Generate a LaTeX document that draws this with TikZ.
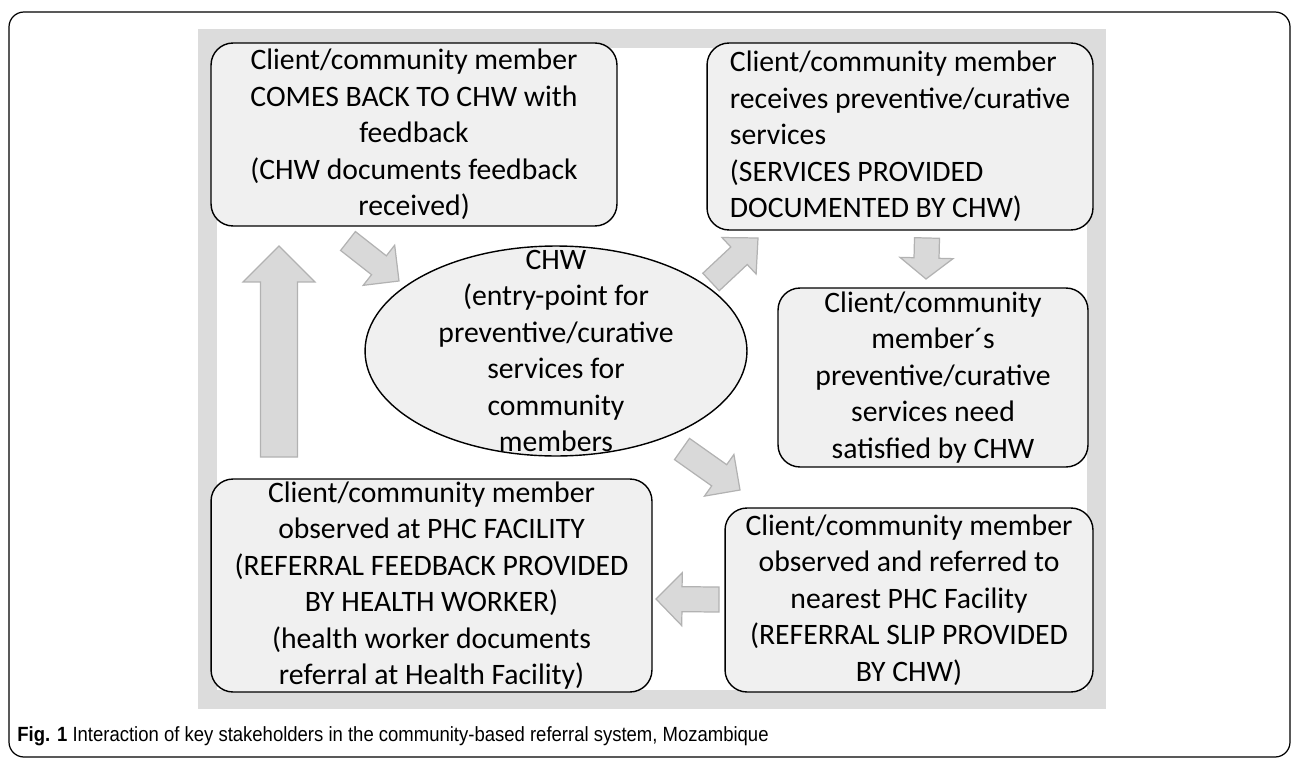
\documentclass[tikz,border=0pt]{standalone}
\usepackage{fontspec}
\setmainfont{Carlito}
\newfontfamily\capfont[FakeStretch=0.9]{Liberation Sans}
\usetikzlibrary{shapes.geometric,calc}

\definecolor{boxfill}{HTML}{F0F0F0}
\definecolor{bandgray}{HTML}{DCDCDC}
\definecolor{arrowfill}{HTML}{D9D9D9}
\definecolor{arrowline}{HTML}{B2B2B2}

\tikzset{
  stage/.style={draw=black, line width=0.8pt, fill=boxfill, rounded corners=0.44cm,
    inner sep=0pt, align=center, font=\fontsize{16.9}{20.8}\selectfont},
  hub/.style={ellipse, draw=black, line width=0.8pt, fill=boxfill, inner sep=0pt},
  hubtext/.style={align=center, inner sep=0pt, font=\fontsize{16.9}{20.8}\selectfont},
  bigarrow/.style={fill=arrowfill, draw=arrowline, line width=0.7pt, line join=miter}
}

% block arrow: tail, tip, half shaft, half head, head length
\newcommand{\blockarrow}[5]{%
  \coordinate (neck) at ($(#2)!#5!(#1)$);
  \filldraw[bigarrow] ($(#1)!#3!90:(#2)$) -- ($(neck)!#3!90:(#2)$) -- ($(neck)!#4!90:(#2)$) -- (#2)
    -- ($(neck)!#4!-90:(#2)$) -- ($(neck)!#3!-90:(#2)$) -- ($(#1)!#3!-90:(#2)$) -- cycle;
}

\begin{document}
\begin{tikzpicture}[x=0.02cm, y=-0.02cm]

\useasboundingbox (0,0) rectangle (1293,760);

% Frame and caption
\draw[line width=0.7pt, rounded corners=0.3cm] (9,12) rectangle (1290,757);
\node[anchor=west, inner sep=0pt, font=\capfont\fontsize{11.7}{14}\selectfont] (caption) at (17,736)
  {\textbf{Fig. 1} Interaction of key stakeholders in the community-based referral system, Mozambique};

% Gray band
\draw[bandgray, line width=0.38cm] (207.5,38.5) rectangle (1096.5,699.5);

% Stages
\node[stage, minimum width=8.12cm, minimum height=3.66cm] (back) at (414,134.5)
  {Client/community member\\COMES BACK TO CHW with\\feedback\\(CHW documents feedback\\received)};
\node[stage, align=left, minimum width=7.72cm, minimum height=3.74cm] (serv) at (900,136.5)
  {Client/community member\\receives preventive/curative\\services\\(SERVICES PROVIDED\\DOCUMENTED BY CHW)};
\node[stage, minimum width=6.2cm, minimum height=3.58cm] (need) at (933,377.5)
  {Client/community\\member´s\\preventive/curative\\services need\\satisfied by CHW};
\node[stage, minimum width=7.36cm, minimum height=3.68cm] (refer) at (909,600)
  {Client/community member\\observed and referred to\\nearest PHC Facility\\(REFERRAL SLIP PROVIDED\\BY CHW)};
\node[stage, minimum width=8.82cm, minimum height=4.26cm] (phc) at (431.5,585.5)
  {Client/community member\\observed at PHC FACILITY\\(REFERRAL FEEDBACK PROVIDED\\BY HEALTH WORKER)\\(health worker documents\\referral at Health Facility)};

% CHW
\node[hub, minimum width=7.64cm, minimum height=4.2cm] (chw) at (556,351) {};
\node[hubtext] (chwtext) at (chw)
  {CHW\\(entry-point for\\preventive/curative\\services for\\community\\members};

% Arrows
\coordinate (upT) at (279,457);   \coordinate (upH) at (279,246);
\coordinate (fbT) at (348,241);   \coordinate (fbH) at (399,281);
\coordinate (svT) at (711,282);   \coordinate (svH) at (758,238);
\coordinate (ndT) at (927,238);   \coordinate (ndH) at (926,279);
\coordinate (rfT) at (682,449);   \coordinate (rfH) at (740,490);
\coordinate (phT) at (719,599.5); \coordinate (phH) at (656,599);

\blockarrow{upT}{upH}{0.37cm}{0.72cm}{0.72cm}
\blockarrow{fbT}{fbH}{0.24cm}{0.51cm}{0.51cm}
\blockarrow{svT}{svH}{0.24cm}{0.50cm}{0.52cm}
\blockarrow{ndT}{ndH}{0.25cm}{0.53cm}{0.42cm}
\blockarrow{rfT}{rfH}{0.26cm}{0.51cm}{0.51cm}
\blockarrow{phT}{phH}{0.25cm}{0.53cm}{0.52cm}

\end{tikzpicture}
\end{document}
